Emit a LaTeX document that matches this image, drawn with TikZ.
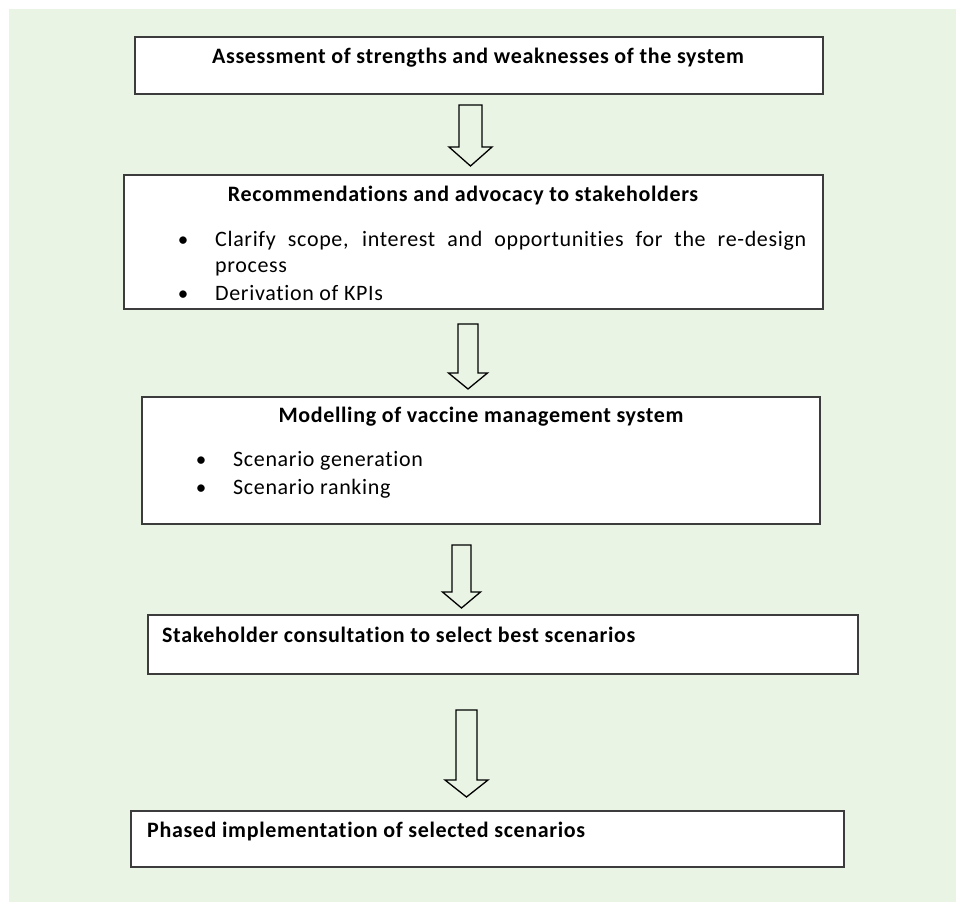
\documentclass[tikz,border=0pt]{standalone}
\usepackage{fontspec}
\setmainfont{Carlito}[Ligatures=NoCommon, LetterSpace=3]
\definecolor{bggreen}{RGB}{234,244,228}
\definecolor{boxline}{RGB}{60,60,60}
\tikzset{
  box/.style={draw=boxline, line width=1.8pt, fill=white, anchor=north west, inner sep=0pt},
  ttl/.style={font=\fontsize{22}{26}\selectfont\bfseries, anchor=base, inner sep=0pt},
  ttlL/.style={font=\fontsize{22}{26}\selectfont\bfseries, anchor=base west, inner sep=0pt},
  txt/.style={font=\fontsize{22}{26}\selectfont, anchor=base west, inner sep=0pt},
  bul/.style={font=\fontsize{21}{25}\selectfont, anchor=base, inner sep=0pt},
  blk/.style={draw=black, line width=1.3pt, fill=bggreen, line join=miter}
}
% \blockarrow{center x}{top y}{head y}{tip y}{half shaft}{half head}
\newcommand{\blockarrow}[6]{%
  \draw[blk] (#1-#5,#2) -- (#1+#5,#2) -- (#1+#5,#3) -- (#1+#6,#3) -- (#1,#4)
    -- (#1-#6,#3) -- (#1-#5,#3) -- cycle;}
\begin{document}
\begin{tikzpicture}[x=1pt,y=-1pt]
\useasboundingbox (0,0) rectangle (956,902);
\fill[bggreen] (9,9) rectangle (956,902);

% box 1
\node[box, minimum width=688pt, minimum height=57pt] (b1) at (134,36) {};
\node[ttl] (t1) at (478,63) {Assessment of strengths and weaknesses of the system};

% arrow 1
\blockarrow{470.5}{105}{147}{166}{11.5}{21.5}

% box 2
\node[box, minimum width=699pt, minimum height=134pt] (b2) at (123,174) {};
\node[ttl] (t2) at (463,201) {Recommendations and advocacy to stakeholders};
\node[bul] (u21) at (183,246) {•};
\node[txt] (l21) at (215,246) {\makebox[591pt][s]{Clarify scope, interest and opportunities for the re-design}};
\node[txt] (l22) at (215,272) {process};
\node[bul] (u22) at (183,300) {•};
\node[txt] (l23) at (215,300) {Derivation of KPIs};

% arrow 2
\blockarrow{468}{324}{373}{389}{10}{19.5}

% box 3
\node[box, minimum width=678pt, minimum height=127pt] (b3) at (141,396) {};
\node[ttl] (t3) at (481,422) {Modelling of vaccine management system};
\node[bul] (u31) at (201,466) {•};
\node[txt] (l31) at (233,466) {Scenario generation};
\node[bul] (u32) at (201,494) {•};
\node[txt] (l32) at (233,494) {Scenario ranking};

% arrow 3
\blockarrow{461.5}{545}{592}{608}{9.5}{19}

% box 4
\node[box, minimum width=710pt, minimum height=59pt] (b4) at (147,614) {};
\node[ttlL] (t4) at (162,642) {Stakeholder consultation to select best scenarios};

% arrow 4
\blockarrow{466.5}{710}{780}{797}{10.5}{21.5}

% box 5
\node[box, minimum width=713pt, minimum height=56pt] (b5) at (130,810) {};
\node[ttlL] (t5) at (147,837) {Phased implementation of selected scenarios};
\end{tikzpicture}
\end{document}
